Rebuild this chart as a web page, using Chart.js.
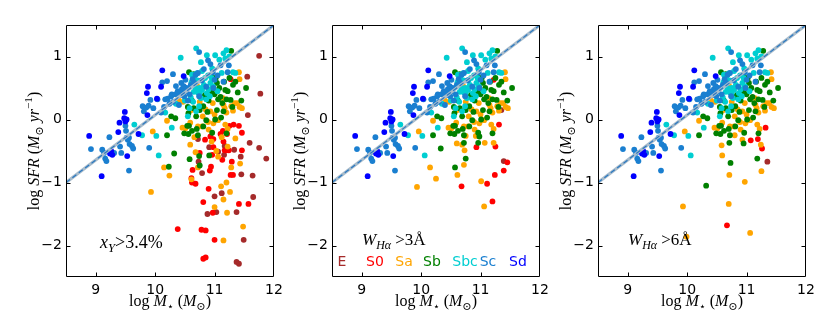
<!DOCTYPE html>
<html><head><meta charset="utf-8">
<script src="https://cdn.jsdelivr.net/npm/chart.js@4/dist/chart.umd.min.js"></script>
<style>
html,body{margin:0;padding:0;background:#fff;}
#wrap{position:relative;width:830px;height:316px;overflow:hidden;background:#fff;}
canvas{position:absolute;top:0;}
</style></head><body>
<div id="wrap">
<canvas id="c0" width="290" height="316" style="left:0px"></canvas>
<canvas id="c1" width="290" height="316" style="left:266px"></canvas>
<canvas id="c2" width="290" height="316" style="left:532px"></canvas>
</div>
<script>
// ---------- data (log M*, log SFR) ----------
const xTicks = [9, 10, 11, 12];
const yTicks = [-2, -1, 0, 1];
const lineX = [8.5, 12];
const lineY = [-1, 1.5];
const typeNames = ['E', 'S0', 'Sa', 'Sb', 'Sbc', 'Sc', 'Sd'];
const typeColors = ['#a52a2a', '#ff0000', '#ffa500', '#008000', '#00ced1', '#1a7fd0', '#0000ff'];

const sdPts = [[8.89,-0.26],[9.10,-0.90],[9.24,-0.54],[9.26,-0.50],[9.28,-0.56],[9.40,-0.05],[9.38,-0.20],[9.49,0.12],[9.48,0.02],[9.52,0.00],[9.53,-0.58],[9.72,-0.23],[9.86,0.42],[9.88,0.52],[9.87,0.07],[10.12,0.78],[10.10,0.52],[10.03,0.33],[10.48,0.69],[9.50,-0.03]];
const scPts = [[8.92,-0.47],[9.11,-0.48],[9.14,-0.53],[9.16,-0.62],[9.18,-0.66],[9.23,-0.28],[9.31,-0.53],[9.41,-0.43],[9.43,-0.53],[9.50,-0.10],[9.51,-0.18],[9.52,-0.29],[9.54,-0.32],[9.56,-0.29],[9.57,-0.39],[9.56,-0.81],[9.61,-0.42],[9.63,-0.46],[9.79,0.21],[9.81,0.13],[9.85,0.19],[9.89,0.22],[9.90,-0.45],[9.92,0.31],[10.04,0.32],[10.10,0.11],[10.17,0.32],[10.20,0.61],[10.21,0.33],[10.24,0.25],[10.27,0.37],[10.28,0.40],[10.30,0.72],[10.12,0.59],[10.34,0.40],[10.35,0.53],[10.40,0.23],[10.43,0.39],[10.44,0.58],[10.45,0.48],[10.48,0.53],[10.49,0.37],[10.51,0.63],[10.52,0.45],[10.63,0.64],[10.68,0.71],[10.72,0.74],[10.74,1.07],[10.89,0.94],[10.97,0.75],[11.00,0.63],[11.10,0.86],[11.24,0.86],[10.86,0.52],[10.74,0.37],[11.22,0.75],[10.98,0.50],[11.15,0.60],[10.55,0.30],[10.60,0.55],[10.38,0.45],[10.46,0.42],[10.53,0.50],[10.58,0.40],[10.66,0.58],[10.78,0.62],[10.82,0.80],[10.93,0.88],[11.05,0.70],[10.30,0.28],[10.15,0.20],[9.97,0.18]];
const sbcPts = [[9.65,-0.08],[9.78,-0.25],[10.02,-0.26],[10.06,-0.57],[10.17,0.11],[10.28,-0.13],[10.43,0.98],[10.61,0.59],[10.62,0.71],[10.69,1.13],[10.77,0.91],[10.79,0.77],[10.80,0.63],[10.87,1.02],[11.01,1.02],[10.68,0.50],[10.72,0.43],[10.75,0.50],[10.77,0.34],[10.74,0.21],[10.69,0.13],[10.86,0.32],[10.92,0.37],[10.97,0.53],[11.08,0.95],[11.15,1.05],[11.20,1.10],[11.25,1.00],[11.31,0.75],[11.35,0.74],[10.89,0.70],[10.95,0.66],[10.58,0.18],[10.96,0.81],[10.70,0.73],[10.93,0.58],[10.82,0.55],[10.65,0.44],[10.79,0.47],[10.87,0.42],[10.35,0.25],[10.50,0.30],[10.55,0.05],[11.18,0.97],[10.60,0.35],[10.64,0.28],[10.71,0.62],[10.84,0.66],[10.90,0.48],[11.05,0.45],[10.75,0.42],[10.66,0.65],[11.12,0.74]];
const sbCommon = [[10.20,-0.25],[10.27,0.05],[10.57,0.75],[10.55,0.20],[10.57,-0.10],[10.49,-0.22],[10.72,-0.25],[10.81,-0.11],[10.81,0.36],[10.96,-0.21],[10.98,0.50],[11.00,0.40],[11.02,0.66],[11.06,0.32],[11.11,0.03],[11.13,0.26],[11.20,0.32],[11.22,0.45],[11.28,1.09],[11.25,0.66],[11.31,0.55],[11.35,0.60],[11.39,0.43],[11.53,0.50],[10.97,0.66],[11.04,0.58],[11.18,0.47],[11.10,0.36],[11.27,0.31],[10.84,0.39],[10.81,0.21],[10.65,0.18],[11.04,0.15],[10.34,0.02],[10.56,0.10],[10.69,0.05],[11.01,0.00],[11.15,0.13],[10.86,-0.01],[10.54,-0.10],[10.56,-0.23],[10.65,0.72],[10.90,0.30],[11.20,-0.22],[10.62,0.30],[10.75,0.15],[10.88,0.12],[10.95,0.45],[11.08,0.50],[11.16,0.60],[11.30,0.20],[10.70,-0.15],[10.62,-0.18],[11.45,0.30]];
const sbP1 = [[10.32,-0.54],[10.23,-0.75],[10.58,-0.63],[10.75,-0.73],[10.74,-0.58],[10.91,-0.57]];
const sbP2 = [[10.33,-0.46],[10.57,-0.76],[10.75,-0.62],[10.96,-0.37],[10.98,-0.27],[10.72,-0.37]];
const sbP3 = [[10.32,-1.05],[10.73,-0.69],[10.71,-0.37],[10.95,-0.38],[11.18,-0.62]];
const saCommon = [[10.46,-0.13],[10.51,-0.14],[10.59,-0.05],[10.72,-0.11],[10.75,0.28],[10.80,0.05],[10.85,0.16],[10.89,-0.04],[10.93,0.13],[10.97,0.26],[11.00,0.08],[11.14,0.34],[11.15,0.23],[11.17,0.18],[11.20,0.11],[11.28,0.21],[11.31,0.14],[11.34,0.26],[11.38,0.26],[11.42,0.20],[11.46,0.18],[11.41,0.75],[11.42,0.64],[10.47,0.28],[10.61,0.15],[10.79,-0.11],[10.90,-0.16],[11.18,-0.08],[11.22,-0.15],[11.06,-0.01],[10.20,-0.02],[9.96,-0.19],[10.40,0.30],[10.70,0.55],[10.98,-0.06]];
const saP1 = [[9.93,-1.15],[10.15,-0.76],[10.24,-0.89],[10.59,-0.40],[10.68,-0.52],[10.72,-0.76],[10.61,-0.95],[11.06,-0.59],[11.03,-0.50],[11.15,-1.27],[11.20,-1.00],[11.26,-1.15],[11.00,-1.39],[11.21,-1.48],[11.15,-1.92],[11.48,-1.70],[11.43,-0.70],[11.28,-0.76],[11.22,-0.43],[11.11,-1.06],[10.66,-0.28],[10.95,-0.35],[11.35,-0.30],[11.12,-0.28]];
const saP2 = [[9.93,-1.07],[10.15,-0.76],[10.25,-0.94],[10.60,-0.38],[10.69,-0.40],[10.73,-0.49],[10.72,-0.72],[10.61,-0.88],[10.92,-0.26],[11.07,-0.37],[11.01,-0.98],[11.06,-1.38],[11.22,-0.37],[10.75,-0.26]];
const saP3 = [[9.93,-1.38],[9.99,-1.86],[10.58,-0.41],[10.59,-0.57],[10.71,-0.88],[10.70,-1.34],[10.97,-0.99],[11.06,-1.80],[10.93,-0.32],[11.24,-0.40],[11.25,-0.82],[10.80,-0.25]];
const s0P1 = [[10.38,-1.74],[10.78,-1.75],[10.85,-1.76],[11.00,-1.91],[10.81,-2.21],[10.85,-2.19],[10.90,-1.10],[10.81,-1.31],[10.62,-1.00],[10.61,-0.93],[10.68,-1.02],[10.63,-0.80],[10.92,-0.81],[10.94,-0.75],[10.96,-0.56],[10.98,-0.44],[10.98,-0.31],[11.13,-0.64],[11.17,-0.49],[11.20,-0.49],[11.24,-0.49],[11.27,-0.88],[11.31,-0.88],[11.29,-0.67],[11.41,-1.34],[11.57,-1.34],[11.46,-0.49],[11.15,-0.35],[10.84,-0.32],[10.93,-0.27],[11.10,-0.23],[11.32,-0.08],[11.41,-0.10],[11.46,-0.21],[11.21,-0.23],[11.27,0.64],[10.75,-0.53],[10.97,-1.48],[11.14,-0.18],[11.25,-0.10]];
const s0P2 = [[10.68,-1.06],[10.93,-0.44],[11.11,-1.02],[11.20,-1.30],[11.25,-0.43],[11.24,-0.88],[11.39,-0.81],[11.45,-0.68],[11.22,0.63],[11.31,-0.08]];
const s0P3 = [[10.67,-1.68],[11.07,-0.33],[11.19,-0.31],[11.26,-0.46],[11.32,-0.13]];
const eP1 = [[10.72,-0.31],[10.73,-0.67],[10.79,-0.85],[10.91,-0.44],[11.06,-0.51],[11.16,-0.56],[11.17,-0.42],[11.33,-0.48],[11.44,-0.59],[11.59,-0.37],[11.75,-0.45],[11.87,-0.62],[11.45,-0.87],[11.64,-0.89],[11.65,-1.23],[11.00,-1.22],[11.12,-1.17],[11.03,-1.47],[10.88,-1.50],[11.37,-1.47],[11.49,-1.91],[11.37,-2.26],[11.41,-2.29],[11.75,1.01],[11.55,0.68],[11.77,0.41],[11.56,0.07]];
const eP2 = [[11.39,-0.66],[11.35,0.15]];
const eP3 = [[11.35,-0.67]];

// ---------- helpers ----------
const SERIF = '"Liberation Serif","DejaVu Serif",serif';
const SANS = '"DejaVu Sans",sans-serif';
function drawRich(ctx, parts, x, y, size, align) {
  const spec = k => {
    const small = (k === 'sub' || k === 'isub' || k === 'sup');
    const it = (k === 'i' || k === 'isub');
    const s = small ? size * 0.7 : size;
    return { font: (it ? 'italic ' : '') + s + 'px ' + SERIF,
             dy: (k === 'sub' || k === 'isub') ? size * 0.22 : (k === 'sup' ? -size * 0.42 : 0) };
  };
  ctx.textAlign = 'left'; ctx.textBaseline = 'alphabetic';
  let w = 0;
  for (const p of parts) { ctx.font = spec(p[1]).font; w += ctx.measureText(p[0]).width; }
  let cx = align === 'center' ? x - w / 2 : x;
  for (const p of parts) {
    const sp = spec(p[1]); ctx.font = sp.font;
    ctx.fillText(p[0], cx, y + sp.dy);
    cx += ctx.measureText(p[0]).width;
  }
}
const pts = arr => arr.map(p => ({ x: p[0], y: p[1] }));
const linePts = lineX.map((x, i) => ({ x: x, y: lineY[i] }));

const framePlugin = {
  id: 'frame',
  afterDatasetsDraw(chart) {
    const ctx = chart.ctx, a = chart.chartArea, sx = chart.scales.x, sy = chart.scales.y;
    ctx.save();
    ctx.strokeStyle = '#000'; ctx.lineWidth = 1;
    const L = Math.round(a.left) + 0.5, R = Math.round(a.right) - 0.5, T = Math.round(a.top) + 0.5, B = Math.round(a.bottom) - 0.5;
    ctx.beginPath();
    ctx.rect(L, T, R - L, B - T);
    const tl = 4;
    for (const v of xTicks) {
      const px = Math.round(sx.getPixelForValue(v)) + 0.5;
      if (px > R - 1) continue;
      ctx.moveTo(px, B); ctx.lineTo(px, B - tl);
      ctx.moveTo(px, T); ctx.lineTo(px, T + tl);
    }
    for (const v of yTicks) {
      const py = Math.round(sy.getPixelForValue(v)) + 0.5;
      ctx.moveTo(L, py); ctx.lineTo(L + tl, py);
      ctx.moveTo(R, py); ctx.lineTo(R - tl, py);
    }
    ctx.stroke();
    ctx.restore();
  }
};

function textPlugin(idx) {
  return {
    id: 'texts' + idx,
    afterDraw(chart) {
      const ctx = chart.ctx, a = chart.chartArea;
      ctx.save();
      ctx.fillStyle = '#000';
      drawRich(ctx, [['log ', 'r'], ['M', 'i'], ['⋆', 'sub'], [' (', 'r'], ['M', 'i'], ['⊙', 'sub'], [')', 'r']],
        (a.left + a.right) / 2, 306, 16, 'center');
      ctx.save();
      ctx.translate(a.left - 27, (a.top + a.bottom) / 2);
      ctx.rotate(-Math.PI / 2);
      drawRich(ctx, [['log ', 'r'], ['SFR', 'i'], [' (', 'r'], ['M', 'i'], ['⊙', 'sub'], [' ', 'r'], ['yr', 'i'], ['−1', 'sup'], [')', 'r']],
        0, 0, 16, 'center');
      ctx.restore();
      if (idx === 0) {
        drawRich(ctx, [['x', 'i'], ['Y', 'isub'], ['>3.4%', 'r']], a.left + 34, 248, 18, 'left');
      } else {
        const thr = idx === 1 ? '3' : '6';
        drawRich(ctx, [['W', 'i'], ['Hα', 'isub'], [' >' + thr + 'Å', 'r']], a.left + 30, 245, 17, 'left');
      }
      if (idx === 1) {
        const offs = [10, 43, 72, 100, 133, 156, 186];
        ctx.font = '14px ' + SANS; ctx.textAlign = 'center'; ctx.textBaseline = 'alphabetic';
        typeNames.forEach((n, i) => { ctx.fillStyle = typeColors[i]; ctx.fillText(n, a.left + offs[i], 266); });
      }
      ctx.restore();
    }
  };
}

function makeChart(idx, sets) {
  const datasets = [
    { type: 'line', data: linePts, borderColor: '#2a78c0', borderWidth: 1.2, borderDash: [5, 3], pointRadius: 0, order: 0 },
    { type: 'line', data: linePts, borderColor: '#a9bccb', borderWidth: 3.2, pointRadius: 0, order: 1 }
  ];
  sets.forEach((s, i) => {
    datasets.push({ type: 'scatter', label: typeNames[i], data: pts(s), backgroundColor: typeColors[i],
      borderWidth: 0, pointRadius: 2.9, order: 16 - i });
  });
  new Chart(document.getElementById('c' + idx), {
    data: { datasets },
    options: {
      responsive: false, animation: false, events: [],
      layout: { padding: { left: 0, right: 16, top: 25, bottom: 0 } },
      plugins: { legend: { display: false }, tooltip: { enabled: false } },
      scales: {
        x: {
          type: 'linear', min: 8.5, max: 12,
          grid: { display: false, drawTicks: false }, border: { display: false },
          ticks: { font: { family: SANS, size: 14 }, color: '#000', padding: 5, maxRotation: 0 },
          afterBuildTicks: s => { s.ticks = xTicks.map(v => ({ value: v })); },
          afterFit: s => { s.height = 39; s.paddingLeft = 0; s.paddingRight = 0; }
        },
        y: {
          type: 'linear', min: -2.5, max: 1.5,
          grid: { display: false, drawTicks: false }, border: { display: false },
          ticks: { font: { family: SANS, size: 14 }, color: '#000', padding: 4,
                   callback: v => (v < 0 ? '−' + Math.abs(v) : String(v)) },
          afterBuildTicks: s => { s.ticks = yTicks.map(v => ({ value: v })); },
          afterFit: s => { s.width = 66; s.paddingTop = 0; s.paddingBottom = 0; }
        }
      }
    },
    plugins: [framePlugin, textPlugin(idx)]
  });
}

makeChart(0, [eP1, s0P1, saCommon.concat(saP1), sbCommon.concat(sbP1), sbcPts, scPts, sdPts]);
makeChart(1, [eP2, s0P2, saCommon.concat(saP2), sbCommon.concat(sbP2), sbcPts, scPts, sdPts]);
makeChart(2, [eP3, s0P3, saCommon.concat(saP3), sbCommon.concat(sbP3), sbcPts, scPts, sdPts]);
</script>
</body></html>
